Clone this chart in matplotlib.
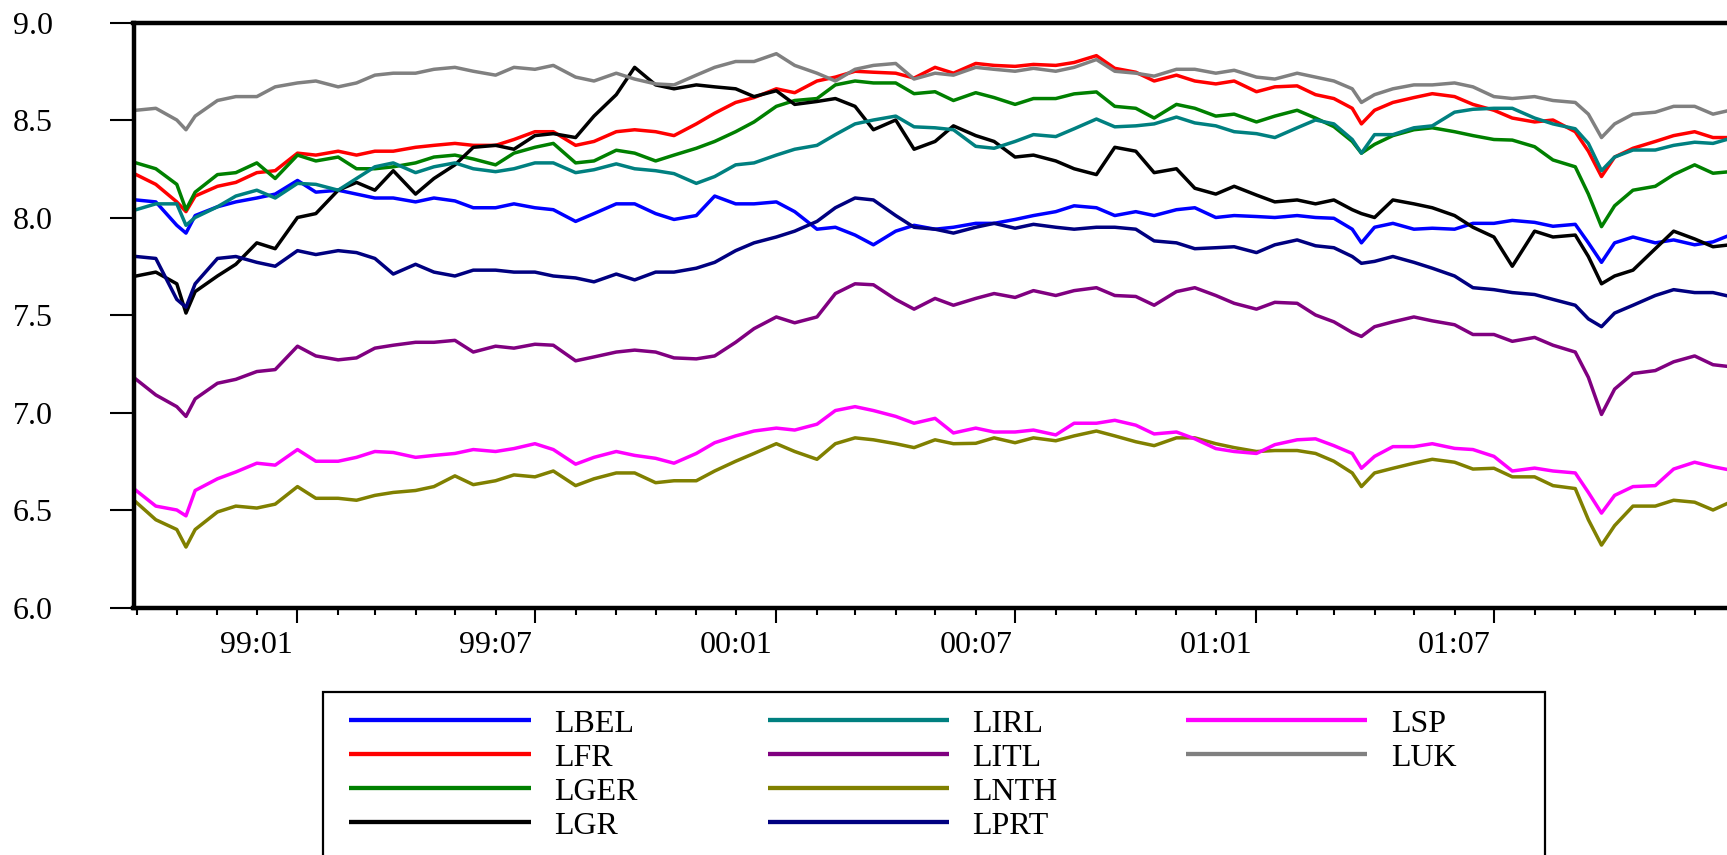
import matplotlib
matplotlib.use('Agg')
import matplotlib.pyplot as plt
import matplotlib.dates as mdates
from matplotlib.lines import Line2D
from matplotlib.patches import Rectangle
import numpy as np
import pandas as pd

# semi-monthly dates (plus a few turning points)
dates = pd.to_datetime([
    '1998-08-31', '1998-09-15', '1998-10-01', '1998-10-08', '1998-10-15', '1998-11-01', '1998-11-15',
    '1998-12-01', '1998-12-15',
    '1999-01-01', '1999-01-15', '1999-02-01', '1999-02-15', '1999-03-01', '1999-03-15',
    '1999-04-01', '1999-04-15', '1999-05-01', '1999-05-15', '1999-06-01', '1999-06-15',
    '1999-07-01', '1999-07-15', '1999-08-01', '1999-08-15', '1999-09-01', '1999-09-15',
    '1999-10-01', '1999-10-15', '1999-11-01', '1999-11-15', '1999-12-01', '1999-12-15',
    '2000-01-01', '2000-01-15', '2000-02-01', '2000-02-15', '2000-03-01', '2000-03-15',
    '2000-04-01', '2000-04-15', '2000-05-01', '2000-05-15', '2000-06-01', '2000-06-15',
    '2000-07-01', '2000-07-15', '2000-08-01', '2000-08-15', '2000-09-01', '2000-09-15',
    '2000-10-01', '2000-10-15', '2000-11-01', '2000-11-15', '2000-12-01', '2000-12-15',
    '2001-01-01', '2001-01-15', '2001-02-01', '2001-02-15', '2001-03-01', '2001-03-15',
    '2001-03-22', '2001-04-01', '2001-04-15', '2001-05-01', '2001-05-15', '2001-06-01',
    '2001-06-15', '2001-07-01', '2001-07-15', '2001-08-01', '2001-08-15', '2001-09-01',
    '2001-09-11', '2001-09-21', '2001-10-01', '2001-10-15', '2001-11-01', '2001-11-15',
    '2001-12-01', '2001-12-15', '2001-12-28'])

lbel = [8.09, 8.08, 7.96, 7.92, 8.01, 8.055, 8.08, 8.10, 8.12,
        8.19, 8.13, 8.14, 8.12, 8.10, 8.10, 8.08, 8.10, 8.085, 8.05, 8.05, 8.07,
        8.05, 8.04, 7.98, 8.02, 8.07, 8.07, 8.02, 7.99, 8.01, 8.11, 8.07, 8.07,
        8.08, 8.03, 7.94, 7.95, 7.91, 7.86, 7.93, 7.96, 7.94, 7.95, 7.97, 7.97,
        7.99, 8.01, 8.03, 8.06, 8.05, 8.01, 8.03, 8.01, 8.04, 8.05, 8.00, 8.01,
        8.005, 8.00, 8.01, 8.00, 7.996, 7.94, 7.87, 7.95, 7.97, 7.94, 7.945, 7.94,
        7.97, 7.97, 7.985, 7.975, 7.955, 7.965, 7.87, 7.77, 7.87, 7.90, 7.87, 7.885,
        7.86, 7.875, 7.91]
lfr = [8.22, 8.17, 8.08, 8.03, 8.11, 8.16, 8.18, 8.23, 8.24,
       8.33, 8.32, 8.34, 8.32, 8.34, 8.34, 8.36, 8.37, 8.38, 8.37, 8.37, 8.40,
       8.44, 8.44, 8.37, 8.39, 8.44, 8.45, 8.44, 8.42, 8.48, 8.535, 8.59, 8.615,
       8.66, 8.64, 8.70, 8.72, 8.75, 8.745, 8.74, 8.715, 8.77, 8.74, 8.79, 8.78,
       8.775, 8.785, 8.78, 8.795, 8.83, 8.765, 8.745, 8.70, 8.73, 8.70, 8.685, 8.70,
       8.645, 8.67, 8.675, 8.63, 8.61, 8.56, 8.48, 8.55, 8.59, 8.615, 8.635, 8.62,
       8.58, 8.55, 8.51, 8.49, 8.50, 8.44, 8.34, 8.21, 8.31, 8.355, 8.39, 8.42,
       8.44, 8.41, 8.41]
lger = [8.28, 8.25, 8.17, 8.04, 8.13, 8.22, 8.23, 8.28, 8.20,
        8.32, 8.29, 8.31, 8.25, 8.25, 8.26, 8.28, 8.31, 8.32, 8.30, 8.27, 8.33,
        8.36, 8.38, 8.28, 8.29, 8.345, 8.33, 8.29, 8.32, 8.355, 8.39, 8.44, 8.49,
        8.57, 8.60, 8.61, 8.68, 8.70, 8.69, 8.69, 8.635, 8.645, 8.60, 8.64, 8.615,
        8.58, 8.61, 8.61, 8.634, 8.644, 8.57, 8.56, 8.51, 8.58, 8.56, 8.52, 8.53,
        8.49, 8.52, 8.55, 8.51, 8.466, 8.39, 8.33, 8.375, 8.42, 8.45, 8.46, 8.44,
        8.42, 8.40, 8.397, 8.363, 8.295, 8.26, 8.12, 7.953, 8.06, 8.14, 8.16, 8.22,
        8.27, 8.227, 8.235]
lgr = [7.70, 7.72, 7.66, 7.51, 7.62, 7.70, 7.76, 7.87, 7.84,
       8.00, 8.02, 8.14, 8.18, 8.14, 8.24, 8.12, 8.20, 8.27, 8.36, 8.37, 8.35,
       8.42, 8.43, 8.41, 8.52, 8.63, 8.77, 8.68, 8.66, 8.68, 8.67, 8.66, 8.62,
       8.65, 8.58, 8.595, 8.61, 8.57, 8.45, 8.50, 8.35, 8.39, 8.47, 8.42, 8.39,
       8.31, 8.32, 8.29, 8.25, 8.22, 8.36, 8.34, 8.23, 8.25, 8.15, 8.12, 8.16,
       8.115, 8.08, 8.09, 8.07, 8.09, 8.04, 8.02, 8.00, 8.09, 8.07, 8.05, 8.01,
       7.95, 7.90, 7.75, 7.93, 7.90, 7.91, 7.80, 7.66, 7.70, 7.73, 7.84, 7.93,
       7.89, 7.85, 7.86]
lirl = [8.04, 8.07, 8.07, 7.96, 8.00, 8.055, 8.11, 8.14, 8.10,
        8.175, 8.17, 8.14, 8.20, 8.26, 8.28, 8.23, 8.26, 8.28, 8.25, 8.235, 8.25,
        8.28, 8.28, 8.23, 8.245, 8.275, 8.25, 8.24, 8.225, 8.175, 8.21, 8.27, 8.28,
        8.32, 8.35, 8.37, 8.425, 8.48, 8.50, 8.52, 8.465, 8.46, 8.45, 8.365, 8.355,
        8.39, 8.425, 8.415, 8.455, 8.505, 8.465, 8.47, 8.48, 8.515, 8.485, 8.47, 8.44,
        8.43, 8.41, 8.46, 8.50, 8.48, 8.40, 8.33, 8.425, 8.425, 8.46, 8.47, 8.54,
        8.555, 8.56, 8.56, 8.51, 8.48, 8.455, 8.38, 8.24, 8.31, 8.346, 8.346, 8.37,
        8.386, 8.38, 8.405]
litl = [7.17, 7.09, 7.03, 6.98, 7.07, 7.15, 7.17, 7.21, 7.22,
        7.34, 7.29, 7.27, 7.28, 7.33, 7.345, 7.36, 7.36, 7.37, 7.31, 7.34, 7.33,
        7.35, 7.345, 7.265, 7.285, 7.31, 7.32, 7.31, 7.28, 7.275, 7.29, 7.36, 7.43,
        7.49, 7.46, 7.49, 7.61, 7.66, 7.655, 7.58, 7.53, 7.585, 7.55, 7.585, 7.61,
        7.59, 7.625, 7.60, 7.625, 7.64, 7.60, 7.595, 7.55, 7.62, 7.64, 7.60, 7.56,
        7.53, 7.565, 7.56, 7.50, 7.465, 7.41, 7.39, 7.44, 7.465, 7.49, 7.47, 7.45,
        7.40, 7.40, 7.365, 7.385, 7.345, 7.31, 7.18, 6.99, 7.12, 7.20, 7.215, 7.26,
        7.29, 7.245, 7.235]
lnth = [6.54, 6.45, 6.40, 6.31, 6.40, 6.49, 6.52, 6.51, 6.53,
        6.62, 6.56, 6.56, 6.55, 6.575, 6.59, 6.60, 6.62, 6.675, 6.63, 6.65, 6.68,
        6.67, 6.70, 6.625, 6.66, 6.69, 6.69, 6.64, 6.65, 6.65, 6.70, 6.75, 6.79,
        6.84, 6.80, 6.76, 6.84, 6.87, 6.86, 6.84, 6.82, 6.86, 6.84, 6.842, 6.87,
        6.845, 6.87, 6.855, 6.88, 6.905, 6.88, 6.85, 6.83, 6.87, 6.87, 6.84, 6.82,
        6.80, 6.805, 6.805, 6.79, 6.75, 6.69, 6.62, 6.69, 6.714, 6.74, 6.76, 6.745,
        6.71, 6.714, 6.67, 6.67, 6.625, 6.61, 6.45, 6.32, 6.42, 6.52, 6.52, 6.55,
        6.54, 6.50, 6.54]
lprt = [7.80, 7.79, 7.58, 7.54, 7.66, 7.79, 7.80, 7.77, 7.75,
        7.83, 7.81, 7.83, 7.82, 7.79, 7.71, 7.76, 7.72, 7.70, 7.73, 7.73, 7.72,
        7.72, 7.70, 7.69, 7.67, 7.71, 7.68, 7.72, 7.72, 7.74, 7.77, 7.83, 7.87,
        7.90, 7.93, 7.98, 8.05, 8.10, 8.09, 8.01, 7.95, 7.94, 7.92, 7.95, 7.97,
        7.945, 7.965, 7.95, 7.94, 7.95, 7.95, 7.94, 7.88, 7.87, 7.84, 7.845, 7.85,
        7.82, 7.86, 7.885, 7.855, 7.845, 7.80, 7.765, 7.775, 7.80, 7.77, 7.74, 7.70,
        7.64, 7.63, 7.615, 7.605, 7.58, 7.55, 7.48, 7.44, 7.51, 7.55, 7.60, 7.63,
        7.615, 7.615, 7.595]
lsp = [6.60, 6.52, 6.50, 6.47, 6.60, 6.66, 6.695, 6.74, 6.73,
       6.81, 6.75, 6.75, 6.77, 6.80, 6.795, 6.77, 6.78, 6.79, 6.81, 6.80, 6.815,
       6.84, 6.81, 6.735, 6.77, 6.80, 6.78, 6.765, 6.74, 6.79, 6.845, 6.88, 6.905,
       6.92, 6.91, 6.94, 7.01, 7.03, 7.01, 6.98, 6.945, 6.97, 6.895, 6.92, 6.90,
       6.90, 6.91, 6.885, 6.945, 6.945, 6.96, 6.935, 6.89, 6.90, 6.865, 6.815, 6.80,
       6.79, 6.835, 6.86, 6.865, 6.83, 6.79, 6.714, 6.775, 6.825, 6.825, 6.84, 6.816,
       6.81, 6.775, 6.70, 6.715, 6.70, 6.69, 6.59, 6.484, 6.575, 6.62, 6.625, 6.71,
       6.745, 6.722, 6.705]
luk = [8.55, 8.56, 8.50, 8.45, 8.52, 8.60, 8.62, 8.62, 8.67,
       8.69, 8.70, 8.67, 8.69, 8.73, 8.74, 8.74, 8.76, 8.77, 8.75, 8.73, 8.77,
       8.76, 8.78, 8.72, 8.70, 8.74, 8.71, 8.685, 8.68, 8.73, 8.77, 8.80, 8.80,
       8.84, 8.78, 8.74, 8.70, 8.76, 8.78, 8.79, 8.71, 8.74, 8.73, 8.77, 8.76,
       8.75, 8.765, 8.75, 8.77, 8.81, 8.75, 8.74, 8.725, 8.76, 8.76, 8.74, 8.755,
       8.72, 8.71, 8.74, 8.72, 8.70, 8.66, 8.59, 8.63, 8.66, 8.68, 8.68, 8.69,
       8.67, 8.62, 8.61, 8.62, 8.60, 8.59, 8.53, 8.41, 8.48, 8.53, 8.54, 8.57,
       8.57, 8.53, 8.55]

names = ['LBEL', 'LFR', 'LGER', 'LGR', 'LIRL', 'LITL', 'LNTH', 'LPRT', 'LSP', 'LUK']
colors = ['#0000ff', '#ff0000', '#008000', '#000000', '#008080',
          '#800080', '#808000', '#000080', '#ff00ff', '#808080']
series = [lbel, lfr, lger, lgr, lirl, litl, lnth, lprt, lsp, luk]

tick_labels = ['99:01', '99:07', '00:01', '00:07', '01:01', '01:07']
major_dates = pd.to_datetime(['1999-01-01', '1999-07-01', '2000-01-01',
                              '2000-07-01', '2001-01-01', '2001-07-01'])

plt.rcParams['font.family'] = ['Liberation Serif', 'DejaVu Serif']
FS = 23

W, H = 1727, 855
fig = plt.figure(figsize=(W / 100, H / 100), dpi=100)
# axes runs a little past the right edge of the picture, like the original crop
ax = fig.add_axes([133.5 / W, (H - 607.5) / H, (1734 - 133.5) / W, 585 / H])

for name, col, vals in zip(names, colors, series):
    ax.plot(dates, vals, color=col, lw=2.5, label=name)

ax.set_xlim(pd.Timestamp('1998-08-29'), pd.Timestamp('2001-12-31'))
ax.set_ylim(6.0, 9.0)
ax.set_yticks(np.arange(6.0, 9.01, 0.5))
ax.set_yticklabels(['%.1f' % v for v in np.arange(6.0, 9.01, 0.5)], fontsize=FS)
ax.tick_params(axis='y', direction='out', length=17, width=1.5, pad=41)

minor = [d for d in pd.date_range('1998-09-01', '2001-12-01', freq='MS') if d not in major_dates]
ax.set_xticks(major_dates)
ax.set_xticks(minor, minor=True)
ax.set_xticklabels([])
ax.tick_params(axis='x', which='major', direction='out', length=10.5, width=1.5)
ax.tick_params(axis='x', which='minor', direction='out', length=5, width=1.5)

# labels sit one month left of their tick
for d, lab in zip(major_dates, tick_labels):
    xpos = mdates.date2num(d - pd.DateOffset(months=1))
    ax.text(xpos, (607.5 - 653.3) / 585, lab, transform=ax.get_xaxis_transform(),
            ha='center', va='baseline', fontsize=FS)

for s in ax.spines.values():
    s.set_linewidth(3.2)

# legend box, drawn by hand
def fx(px):
    return px / W

def fy(py):
    return 1 - py / H

fig.add_artist(Rectangle((fx(322.7), fy(900)), (1545 - 322.7) / W, (900 - 691.7) / H,
                         transform=fig.transFigure, fill=False, ec='black', lw=1.6))
col_x = [(348.5, 530.6, 554), (768.4, 949, 972.4), (1186, 1367, 1391)]
row_y = [720, 754, 788, 822]
for i, (name, col) in enumerate(zip(names, colors)):
    c, r = divmod(i, 4)
    x0, x1, tx = col_x[c]
    y = row_y[r]
    fig.add_artist(Line2D([fx(x0), fx(x1)], [fy(y), fy(y)], transform=fig.transFigure,
                          color=col, lw=3.1, solid_capstyle='butt'))
    fig.text(fx(tx), fy(y + 11.7), name, fontsize=FS, ha='left', va='baseline')

plt.savefig('out.png', dpi=100)
